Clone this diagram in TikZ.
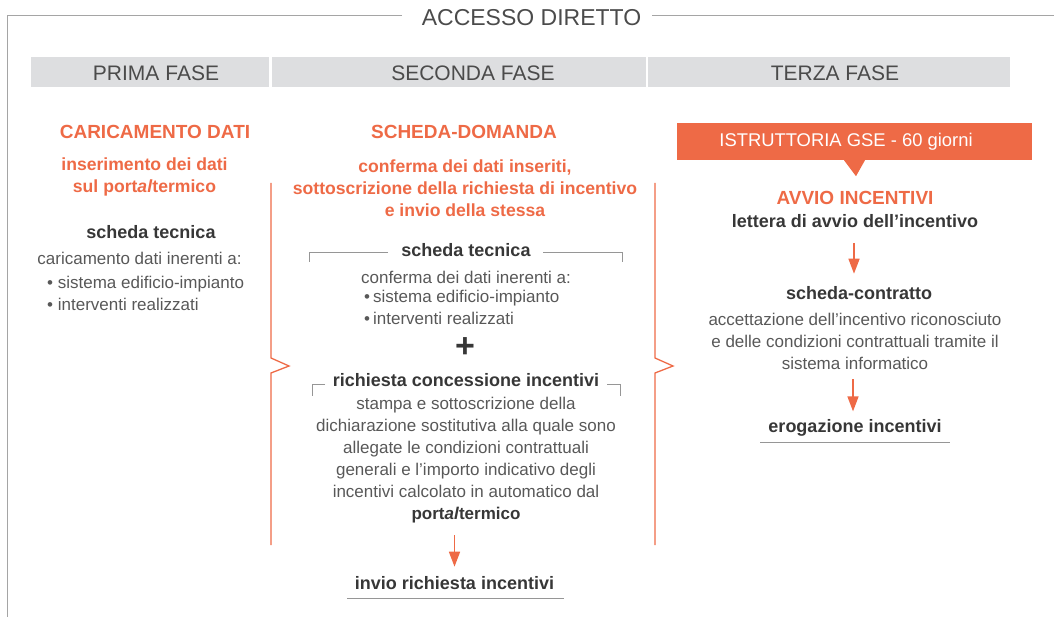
\documentclass[tikz,border=0pt]{standalone}
\usepackage{fontspec}
\setmainfont{Liberation Sans}
\usetikzlibrary{arrows.meta}
\definecolor{oran}{RGB}{238,106,70}
\definecolor{txtg}{RGB}{88,88,88}
\definecolor{dark}{RGB}{55,55,55}
\definecolor{hgray}{RGB}{75,75,75}
\definecolor{barg}{RGB}{221,222,224}
\definecolor{lgray}{RGB}{150,150,150}
\definecolor{fgray}{RGB}{165,165,165}
\begin{document}
\begin{tikzpicture}[x=1pt,y=-1pt,
  lt/.style={text=txtg, font=\fontsize{17}{22}\selectfont, inner sep=0pt, align=center},
  bd/.style={text=dark, font=\fontsize{18}{22}\selectfont\bfseries, inner sep=0pt, align=center},
  ob/.style={text=oran, font=\fontsize{17.6}{22}\selectfont\bfseries, inner sep=0pt, align=center},
  oh/.style={text=oran, font=\fontsize{19}{22}\selectfont\bfseries, inner sep=0pt, align=center},
  phase/.style={text=hgray, font=\fontsize{21}{24}\selectfont, inner sep=0pt},
  titlestyle/.style={text=hgray, font=\fontsize{23}{26}\selectfont, inner sep=0pt},
  bar/.style={fill=barg, draw=none, inner sep=0pt, minimum height=30pt},
  gsebox/.style={fill=oran, draw=none, inner sep=0pt, minimum height=37pt, minimum width=355pt, text=white, font=\fontsize{18.4}{22}\selectfont},
  plusstyle/.style={text=dark, font=\fontsize{34}{34}\selectfont\bfseries, inner sep=0pt},
  flow/.style={draw=oran, line width=1.6pt, -{Triangle[width=11pt,length=15pt]}},
  gline/.style={draw=lgray, line width=0.8pt},
  uline/.style={draw=lgray, line width=1pt},
  frame/.style={draw=fgray, line width=1pt},
  obr/.style={draw=oran, line width=1.3pt, line join=miter}
]
\useasboundingbox (0,0) rectangle (1054,617);

% frame and title
\node[titlestyle] (title) at (531.5,18) {ACCESSO DIRETTO};
\draw[frame] (402,16) -- (7,16) -- (7,617);
\draw[frame] (652,16) -- (1054,16);

% phase bars
\node[bar, minimum width=238pt] (b1) at (150,72) {};
\node[bar, minimum width=374pt] (b2) at (459,72) {};
\node[bar, minimum width=362pt] (b3) at (829,72) {};
\node[phase] (p1) at (156,73) {PRIMA FASE};
\node[phase] (p2) at (473,73) {SECONDA FASE};
\node[phase] (p3) at (835,73) {TERZA FASE};

% column 1
\node[oh] (car) at (155,132) {CARICAMENTO DATI};
\node[ob] (ins) at (144.5,177) {inserimento dei dati\\sul port\textit{al}termico};
\node[bd] (st1) at (151,232) {scheda tecnica};
\node[lt] (cd1) at (139.5,258) {caricamento dati inerenti a:};
\node[lt, align=left, anchor=west] (bl1) at (47,293) {•~sistema edificio-impianto\\•~interventi realizzati};

% orange brackets
\draw[obr] (271,183) -- (271,358) -- (289,366) -- (271,373) -- (271,545);
\draw[obr] (655,183) -- (655,358) -- (673,366) -- (655,373) -- (655,545);

% column 2
\node[oh] (sd) at (464,132) {SCHEDA-DOMANDA};
\node[ob] (conf) at (465,188) {conferma dei dati inseriti,\\sottoscrizione della richiesta di incentivo\\e invio della stessa};
\node[bd] (st2) at (466,250) {scheda tecnica};
\draw[gline] (388,252) -- (309,252) -- (309,262);
\draw[gline] (543,252) -- (622,252) -- (622,262);
\node[lt] (cf2) at (466,277) {conferma dei dati inerenti a:};
\node[lt, align=left, anchor=west] (bl2) at (364,307.5) {•\kern3pt sistema edificio-impianto\\•\kern3pt interventi realizzati};
\node[plusstyle] (plus) at (465,348) {+};
\node[bd] (rc) at (466,380) {richiesta concessione incentivi};
\draw[gline] (325,384) -- (312,384) -- (312,396);
\draw[gline] (607,384) -- (620,384) -- (620,396);
\node[lt] (stampa) at (466,460) {stampa e sottoscrizione della\\dichiarazione sostitutiva alla quale sono\\allegate le condizioni contrattuali\\generali e l’importo indicativo degli\\incentivi calcolato in automatico dal\\\textcolor{dark}{\bfseries port\textit{al}termico}};
\node[bd] (invio) at (454.5,583) {invio richiesta incentivi};
\draw[uline] (347,598) -- (564,598);
\draw[flow, shorten <=12pt, shorten >=9.5pt] (invio.north |- stampa.south) -- (invio.north);

% column 3
\node[gsebox] (gse) at (854.5,141.5) {ISTRUTTORIA GSE - 60 giorni\kern17pt};
\fill[oran] ([xshift=-10.5pt]gse.south) -- ([xshift=10.5pt]gse.south) -- ([xshift=1.5pt,yshift=-16pt]gse.south) -- cycle;
\node[oh] (avvio) at (855,198) {AVVIO INCENTIVI};
\node[bd] (lett) at (855,221) {lettera di avvio dell’incentivo};
\node[bd] (sc) at (859,293) {scheda-contratto};
\node[lt] (acc) at (855,341) {accettazione dell’incentivo riconosciuto\\e delle condizioni contrattuali tramite il\\sistema informatico};
\node[bd] (erog) at (855,428) {erogazione incentivi};
\draw[uline] (760,442) -- (950,442);
\draw[flow, shorten <=15pt, shorten >=12.5pt] (lett.south -| 854,0) -- (sc.north -| 854,0);
\draw[flow, shorten <=10pt, shorten >=8pt] (acc.south -| 853,0) -- (erog.north -| 853,0);
\end{tikzpicture}
\end{document}
